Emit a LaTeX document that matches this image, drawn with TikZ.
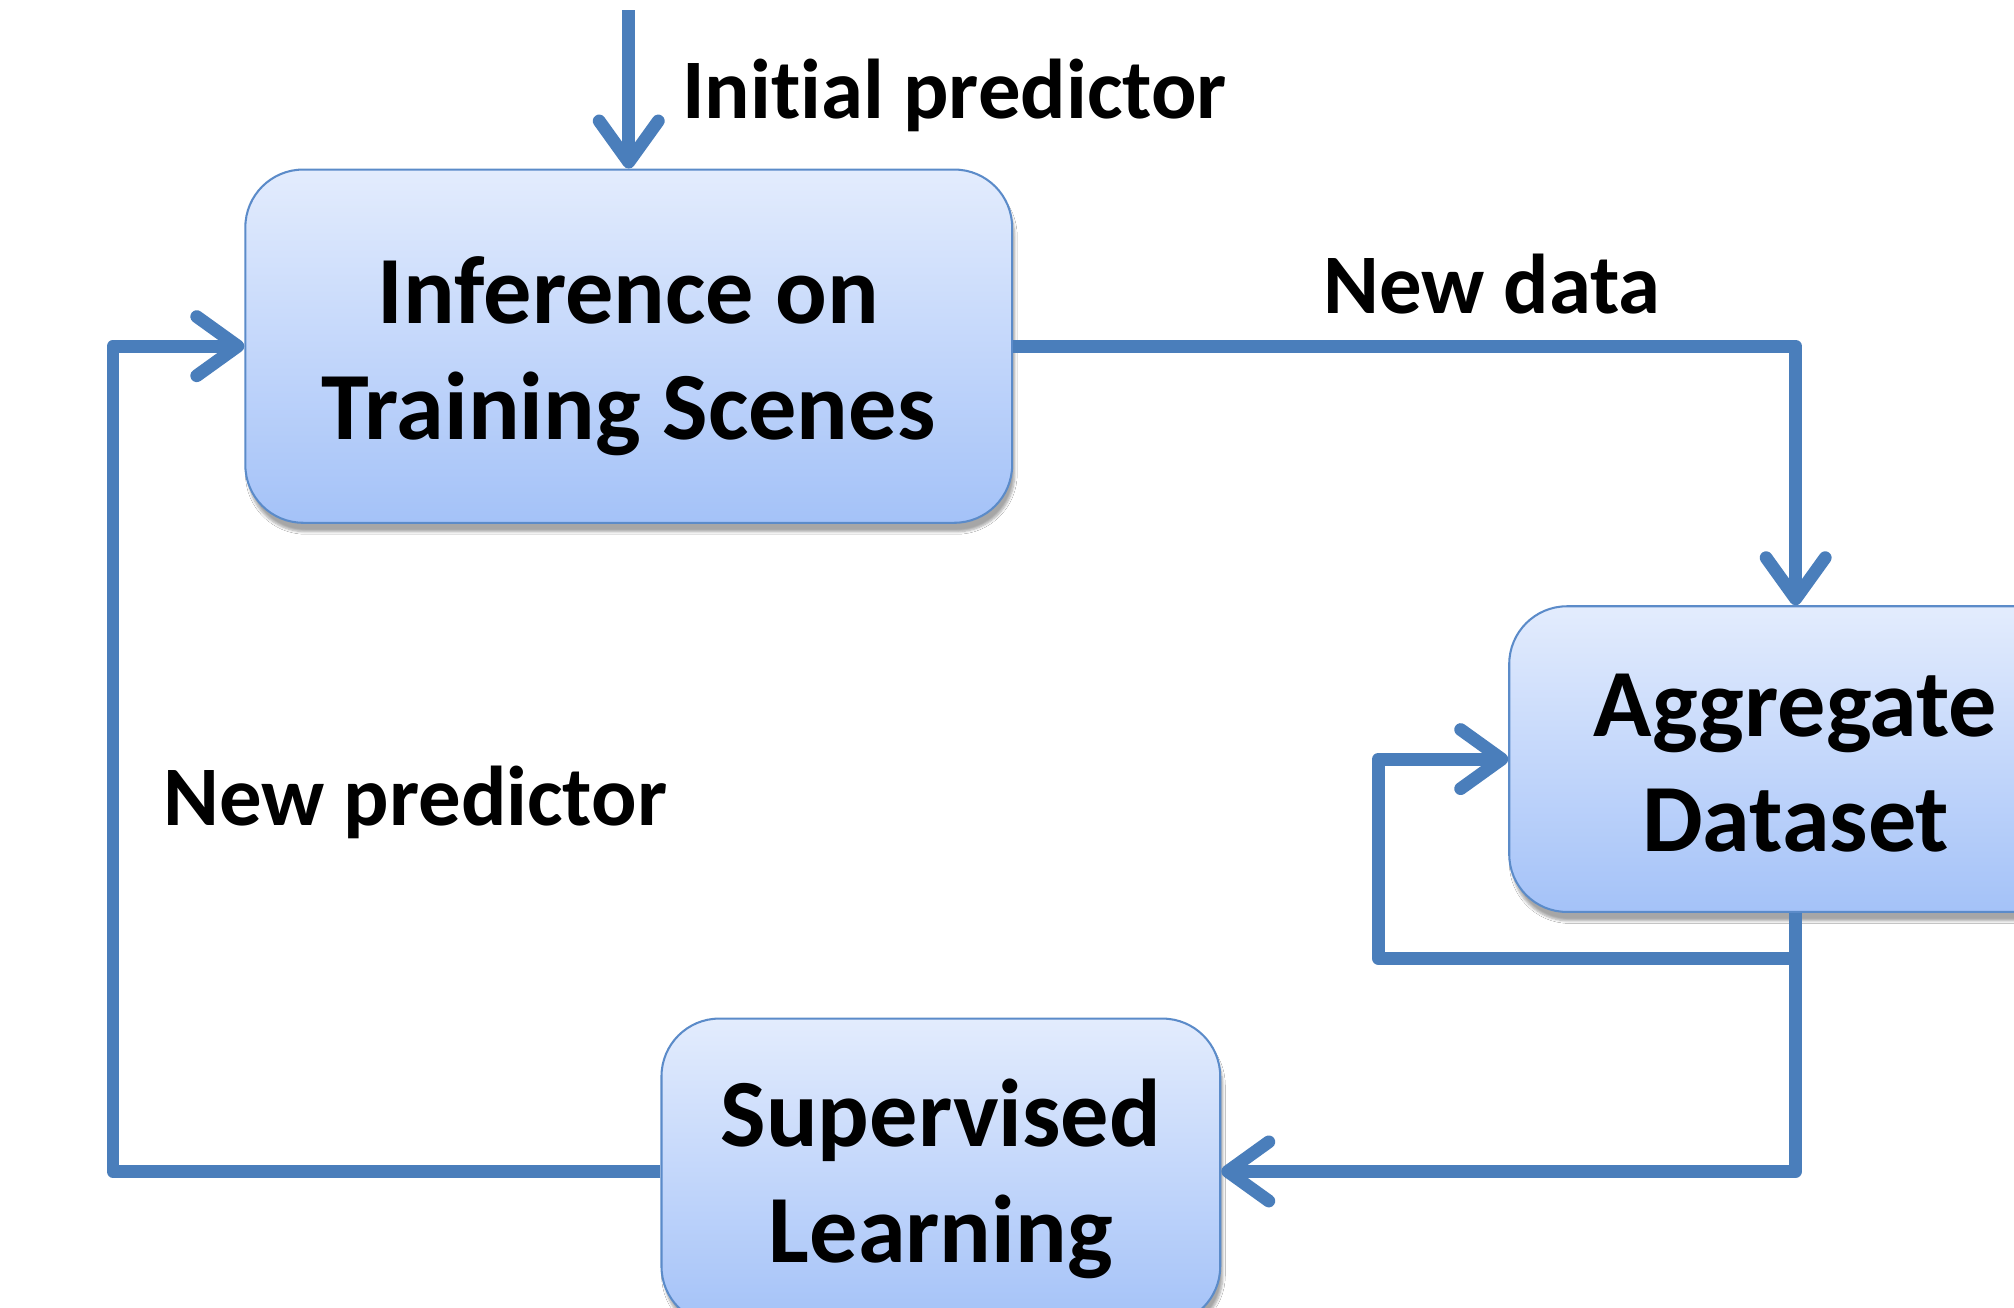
\documentclass[tikz,border=0pt]{standalone}
\usepackage{fontspec}
\setmainfont{Carlito}[Ligatures=NoCommon]
\usetikzlibrary{arrows.meta,shadows.blur}
\definecolor{flowline}{HTML}{4A7EBB}
\definecolor{boxedge}{HTML}{5B8BC9}
\definecolor{boxtop}{HTML}{E3ECFD}
\definecolor{boxbot}{HTML}{A4C2F8}
\tikzset{
  stagebox/.style={draw=boxedge, line width=1.6pt, rounded corners=45pt,
    top color=boxtop, bottom color=boxbot,
    blur shadow={shadow xshift=2pt, shadow yshift=-7pt, shadow blur steps=6, shadow opacity=35}},
  stagetext/.style={align=center, inner sep=0pt, font=\fontsize{75}{90}\selectfont\bfseries},
  flow/.style={draw=flowline, line width=10pt, line join=round,
    -{Straight Barb[length=32pt, width=46pt, round]}},
  lbl/.style={font=\fontsize{66}{90}\selectfont\bfseries, anchor=base west, inner sep=0pt}
}
\begin{document}
\begin{tikzpicture}[x=1pt, y=-1pt]
  \clip (0,0) rectangle (1568,1018);
  \fill[white] (0,0) rectangle (1568,1018);

  % process stages
  \node[stagebox, minimum width=597pt, minimum height=275pt] (inf) at (489.5,269.5) {};
  \node[stagebox, minimum width=446pt, minimum height=238pt] (agg) at (1398,591) {};
  \node[stagebox, minimum width=435pt, minimum height=238pt] (sup) at (732.5,912) {};

  % stage captions
  \node[stagetext] (inftext) at ([yshift=-8pt]inf.center) {Inference on\\Training Scenes};
  \node[stagetext] (aggtext) at ([yshift=-3pt]agg.center) {Aggregate\\Dataset};
  \node[stagetext] (suptext) at ([yshift=-6pt]sup.center) {Supervised\\Learning};

  % free ends and bends
  \coordinate (start) at (489.5,8);
  \coordinate (loopc) at (1073,746);
  \coordinate (leftx) at (88,600);

  % connectors
  \draw[flow] (start) -- (inf.north);
  \draw[flow] (inf.east) -| (agg.north);
  \draw[flow] (agg.south) |- (loopc) |- (agg.west);
  \draw[flow] (agg.south) |- (sup.east);
  \draw[flow] (sup.west) -- (sup.west -| leftx) |- (inf.west);

  % labels
  \node[lbl] (linit) at (531,92) {Initial predictor};
  \node[lbl] (ldata) at (1030,244) {New data};
  \node[lbl] (lpred) at (127,643) {New predictor};
\end{tikzpicture}
\end{document}
